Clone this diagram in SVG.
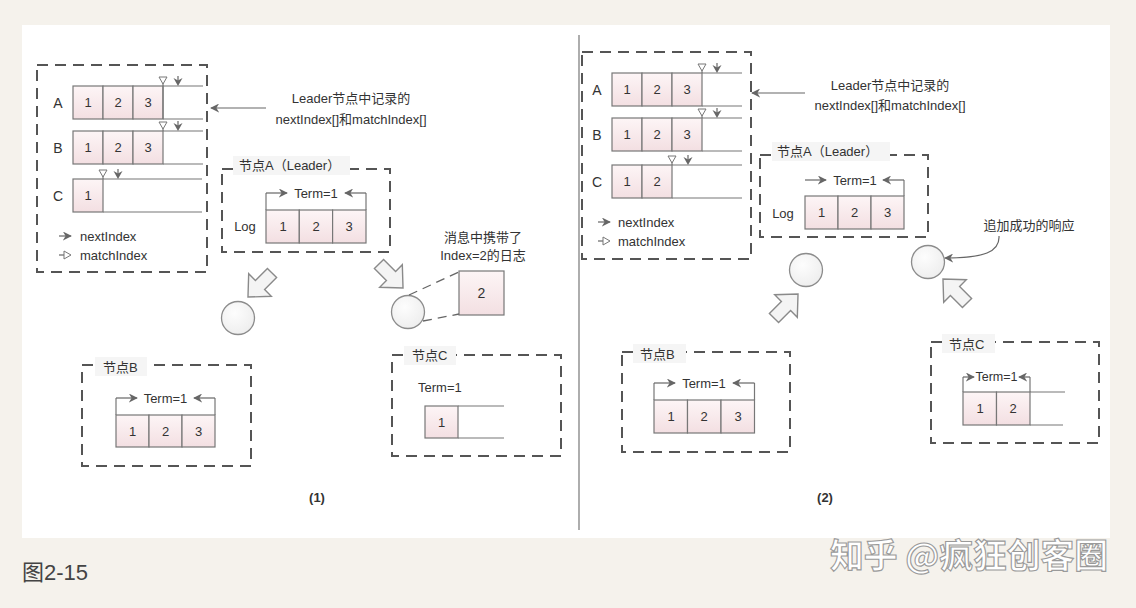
<svg xmlns="http://www.w3.org/2000/svg" width="1136" height="608" viewBox="0 0 1136 608">
<style>
text{font-family:"Liberation Sans","Noto Sans CJK SC",sans-serif;fill:#333;font-size:13px}
.c{text-anchor:middle;dominant-baseline:central}
.m{dominant-baseline:central}
.lbl{font-size:14px}
.dash{fill:none;stroke:#555;stroke-width:2;stroke-dasharray:11 7}
.cell{fill:url(#pink);stroke:#777;stroke-width:1.2}
.ln{fill:none;stroke:#777;stroke-width:1.2}
.tbg{fill:#f5f5f5}
.circ{fill:url(#gray);stroke:#8c8c8c;stroke-width:1.3}
.blk{fill:#f4f4f4;stroke:#8a8a8a;stroke-width:1.4}
.conn{fill:none;stroke:#666;stroke-width:1.2}
.dl{fill:none;stroke:#666;stroke-width:1.3;stroke-dasharray:9 6}
.wm{font-family:"Noto Sans CJK SC",sans-serif;font-size:34px;font-weight:bold;fill:#fff;stroke:#9a9a9a;stroke-width:1.1}
</style>
<defs>
<linearGradient id="pink" x1="0" y1="0" x2="0" y2="1"><stop offset="0" stop-color="#fdf5f6"/><stop offset="1" stop-color="#f3dfe2"/></linearGradient>
<radialGradient id="gray" cx="0.4" cy="0.35" r="0.75"><stop offset="0" stop-color="#fdfdfd"/><stop offset="1" stop-color="#ececec"/></radialGradient>
<marker id="dart" viewBox="0 0 10 10" refX="9" refY="5" markerWidth="9" markerHeight="9" markerUnits="userSpaceOnUse" orient="auto"><path d="M0 0 L10 5 L0 10 L3 5 Z" fill="#666"/></marker>
<polygon id="blk" points="-17,-6.5 0,-6.5 0,-16 17,0 0,16 0,6.5 -17,6.5"/>
<g id="mIdx"><path d="M0 -9 V0" stroke="#777" stroke-width="1.2"/><polygon points="-4,-9 4,-9 0,-2" fill="#fff" stroke="#777" stroke-width="1"/></g>
<g id="nIdx"><path d="M0 -10 V-4" stroke="#666" stroke-width="1.2"/><polygon points="-4.5,-8 0,-5.5 4.5,-8 0,0" fill="#666"/></g>
</defs>

<rect width="1136" height="608" fill="#f5f2ec"/>
<rect x="22" y="25" width="1088" height="513" fill="#fff"/>
<line x1="579" y1="35" x2="579" y2="530" stroke="#777" stroke-width="1.2"/>

<!-- ===== Panel (1) ===== -->
<g id="left-index-table">
<rect class="dash" x="37" y="65" width="170" height="207"/>
<text class="c lbl" x="58" y="102.5">A</text>
<rect class="cell" x="73" y="86" width="30" height="33"/><rect class="cell" x="103" y="86" width="30" height="33"/><rect class="cell" x="133" y="86" width="30" height="33"/>
<text class="c" x="88" y="102.5">1</text><text class="c" x="118" y="102.5">2</text><text class="c" x="148" y="102.5">3</text>
<path class="ln" d="M163 86 H203 M163 119 H203 M163 86 V119"/>
<use href="#mIdx" x="163" y="86"/><use href="#nIdx" x="178" y="86"/>
<text class="c lbl" x="58" y="147.5">B</text>
<rect class="cell" x="73" y="131" width="30" height="33"/><rect class="cell" x="103" y="131" width="30" height="33"/><rect class="cell" x="133" y="131" width="30" height="33"/>
<text class="c" x="88" y="147.5">1</text><text class="c" x="118" y="147.5">2</text><text class="c" x="148" y="147.5">3</text>
<path class="ln" d="M163 131 H203 M163 164 H203"/>
<use href="#mIdx" x="163" y="131"/><use href="#nIdx" x="178" y="131"/>
<text class="c lbl" x="58" y="195.5">C</text>
<rect class="cell" x="73" y="179" width="30" height="33"/>
<text class="c" x="88" y="195.5">1</text>
<path class="ln" d="M103 179 H202 M103 212 H202"/>
<use href="#mIdx" x="103" y="179"/><use href="#nIdx" x="118" y="179"/>
<path class="conn" d="M59 236 H71" marker-end="url(#dart)"/>
<text class="m" x="80" y="236">nextIndex</text>
<path class="conn" d="M59 255 H64"/><polygon points="64,251 64,259 71,255" fill="#fff" stroke="#777"/>
<text class="m" x="80" y="255">matchIndex</text>
</g>

<g id="left-leader-label">
<text class="c" x="351" y="98">Leader节点中记录的</text>
<text class="c" x="351" y="119">nextIndex[]和matchIndex[]</text>
</g>

<g id="left-node-a">
<rect class="dash" x="222" y="169" width="168" height="83"/>
<rect class="tbg" x="233" y="156" width="117" height="19"/>
<text class="m" x="239" y="165">节点A（Leader）</text>
<path class="ln" d="M266 193 V210 M366 193 V210"/>
<text class="c" x="316" y="193">Term=1</text>
<text class="c" x="245" y="226">Log</text>
<rect class="cell" x="266" y="210" width="33.3" height="33"/><rect class="cell" x="299.3" y="210" width="33.3" height="33"/><rect class="cell" x="332.6" y="210" width="33.4" height="33"/>
<text class="c" x="283" y="226.5">1</text><text class="c" x="316" y="226.5">2</text><text class="c" x="349" y="226.5">3</text>
</g>

<g id="left-msg">
<text class="c" x="483" y="237">消息中携带了</text>
<text class="c" x="483" y="255">Index=2的日志</text>
<rect class="cell" x="459" y="271" width="45" height="44" stroke="#333" stroke-width="1.5"/>
<text class="c" x="481.5" y="293" style="font-size:14px">2</text>
</g>

<g id="left-circle-b"><circle class="circ" cx="238" cy="318" r="16.5"/></g>
<g id="left-circle-c"><circle class="circ" cx="408" cy="312" r="16.5"/></g>

<g id="left-node-b">
<rect class="dash" x="82" y="365" width="169" height="101"/>
<rect class="tbg" x="95" y="357" width="52" height="19"/>
<text class="m" x="103" y="367">节点B</text>
<path class="ln" d="M116 398 V415 M215 398 V415"/>
<text class="c" x="165.5" y="398">Term=1</text>
<rect class="cell" x="116" y="415" width="33" height="32"/><rect class="cell" x="149" y="415" width="33" height="32"/><rect class="cell" x="182" y="415" width="33" height="32"/>
<text class="c" x="132.5" y="431">1</text><text class="c" x="165.5" y="431">2</text><text class="c" x="198.5" y="431">3</text>
</g>

<g id="left-node-c">
<rect class="dash" x="392" y="355" width="169" height="101"/>
<rect class="tbg" x="404" y="346" width="52" height="19"/>
<text class="m" x="412" y="355">节点C</text>
<text class="m" x="418" y="387">Term=1</text>
<rect class="cell" x="425" y="406" width="33" height="32"/>
<text class="c" x="441.5" y="422">1</text>
<path class="ln" d="M458 406 H504 M458 438 H504"/>
</g>

<text class="c" x="317" y="497" style="font-weight:bold">(1)</text>

<!-- ===== Panel (2) ===== -->
<g id="right-index-table">
<rect class="dash" x="582" y="52" width="169" height="207"/>
<text class="c lbl" x="597" y="89.5">A</text>
<rect class="cell" x="612" y="73" width="30" height="33"/><rect class="cell" x="642" y="73" width="30" height="33"/><rect class="cell" x="672" y="73" width="30" height="33"/>
<text class="c" x="627" y="89.5">1</text><text class="c" x="657" y="89.5">2</text><text class="c" x="687" y="89.5">3</text>
<path class="ln" d="M702 73 H742 M702 106 H742"/>
<use href="#mIdx" x="702" y="73"/><use href="#nIdx" x="717" y="73"/>
<text class="c lbl" x="597" y="134.5">B</text>
<rect class="cell" x="612" y="118" width="30" height="33"/><rect class="cell" x="642" y="118" width="30" height="33"/><rect class="cell" x="672" y="118" width="30" height="33"/>
<text class="c" x="627" y="134.5">1</text><text class="c" x="657" y="134.5">2</text><text class="c" x="687" y="134.5">3</text>
<path class="ln" d="M702 118 H742 M702 151 H742"/>
<use href="#mIdx" x="702" y="118"/><use href="#nIdx" x="717" y="118"/>
<text class="c lbl" x="597" y="181.5">C</text>
<rect class="cell" x="612" y="165" width="30" height="33"/><rect class="cell" x="642" y="165" width="30" height="33"/>
<text class="c" x="627" y="181.5">1</text><text class="c" x="657" y="181.5">2</text>
<path class="ln" d="M672 165 H742 M672 198 H742"/>
<use href="#mIdx" x="672" y="165"/><use href="#nIdx" x="688" y="165"/>
<path class="conn" d="M598 222 H610" marker-end="url(#dart)"/>
<text class="m" x="618" y="222">nextIndex</text>
<path class="conn" d="M598 241 H603"/><polygon points="603,237 603,245 610,241" fill="#fff" stroke="#777"/>
<text class="m" x="618" y="241">matchIndex</text>
</g>

<g id="right-leader-label">
<text class="c" x="890" y="85">Leader节点中记录的</text>
<text class="c" x="890" y="105">nextIndex[]和matchIndex[]</text>
</g>

<g id="right-node-a">
<rect class="dash" x="760" y="155" width="168" height="82"/>
<rect class="tbg" x="772" y="142" width="118" height="19"/>
<text class="m" x="777" y="151">节点A（Leader）</text>
<path class="ln" d="M904 180 V196"/>
<text class="c" x="855" y="180">Term=1</text>
<text class="c" x="783" y="213">Log</text>
<rect class="cell" x="805" y="196" width="33" height="33"/><rect class="cell" x="838" y="196" width="33" height="33"/><rect class="cell" x="871" y="196" width="33" height="33"/>
<text class="c" x="821.5" y="212.5">1</text><text class="c" x="854.5" y="212.5">2</text><text class="c" x="887.5" y="212.5">3</text>
</g>

<g id="right-circle-b"><circle class="circ" cx="806" cy="270" r="16.5"/></g>
<g id="right-circle-c"><circle class="circ" cx="928" cy="262" r="16.5"/></g>
<g id="right-reply-label"><text class="c" x="1029" y="225">追加成功的响应</text></g>

<g id="right-node-b">
<rect class="dash" x="622" y="352" width="168" height="100"/>
<rect class="tbg" x="633" y="344" width="53" height="19"/>
<text class="m" x="640" y="354">节点B</text>
<path class="ln" d="M654 383 V400 M754.5 383 V400"/>
<text class="c" x="704" y="383">Term=1</text>
<rect class="cell" x="654" y="400" width="33.5" height="33"/><rect class="cell" x="687.5" y="400" width="33.5" height="33"/><rect class="cell" x="721" y="400" width="33.5" height="33"/>
<text class="c" x="671" y="416.5">1</text><text class="c" x="704" y="416.5">2</text><text class="c" x="738" y="416.5">3</text>
</g>

<g id="right-node-c">
<rect class="dash" x="931" y="342" width="168" height="101"/>
<rect class="tbg" x="942" y="334" width="53" height="19"/>
<text class="m" x="949" y="344">节点C</text>
<path class="ln" d="M963 377 V392 M1030 377 V392"/>
<text class="c" x="996.5" y="377" style="font-size:12.5px">Term=1</text>
<rect class="cell" x="963" y="392" width="33.5" height="33"/><rect class="cell" x="996.5" y="392" width="33.5" height="33"/>
<text class="c" x="980" y="408.5">1</text><text class="c" x="1013" y="408.5">2</text>
<path class="ln" d="M1030 392 H1065 M1030 425 H1063"/>
</g>

<text class="c" x="825" y="497" style="font-weight:bold">(2)</text>

<!-- ===== Connectors ===== -->
<g id="connectors">
<path class="conn" d="M266 108 H211" marker-end="url(#dart)"/>
<path class="conn" d="M805 93 H752" marker-end="url(#dart)"/>
<path class="conn" d="M266 193 H287" marker-end="url(#dart)"/>
<path class="conn" d="M366 193 H345" marker-end="url(#dart)"/>
<path class="conn" d="M116 398 H137" marker-end="url(#dart)"/>
<path class="conn" d="M215 398 H194" marker-end="url(#dart)"/>
<path class="conn" d="M805 180 H826" marker-end="url(#dart)"/>
<path class="conn" d="M904 180 H883" marker-end="url(#dart)"/>
<path class="conn" d="M654 383 H675" marker-end="url(#dart)"/>
<path class="conn" d="M754.5 383 H733" marker-end="url(#dart)"/>
<path class="conn" d="M963 377 H974" marker-end="url(#dart)"/>
<path class="conn" d="M1030 377 H1019" marker-end="url(#dart)"/>
<path class="dl" d="M409 295 L459 272 M423 321 L459 314"/>
<path class="conn" d="M999 236 C1000 252 984 258 945 258" marker-end="url(#dart)"/>
<use href="#blk" class="blk" transform="translate(260,285) rotate(135)"/>
<use href="#blk" class="blk" transform="translate(391,276) rotate(45)"/>
<use href="#blk" class="blk" transform="translate(786,306) rotate(-45)"/>
<use href="#blk" class="blk" transform="translate(955,291) rotate(-135)"/>
</g>

<text x="22" y="580" style="font-size:22px;fill:#444">图2-15</text>
<text class="wm" x="830" y="568" textLength="278" lengthAdjust="spacingAndGlyphs">知乎 @疯狂创客圈</text>
</svg>
